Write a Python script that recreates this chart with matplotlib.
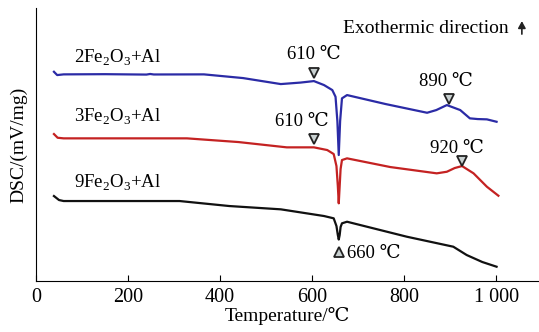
import matplotlib.pyplot as plt

plt.rcParams['font.family'] = ['Liberation Serif', 'DejaVu Serif']
plt.rcParams['mathtext.fontset'] = 'custom'
plt.rcParams['mathtext.rm'] = 'Liberation Serif'

# DSC curves (arbitrary units)
t_blue = [39, 46, 60, 150, 240, 248, 256, 365, 450, 532, 575, 604, 626, 644, 651, 655, 658, 661, 665, 676, 760, 850, 870, 893, 922, 943, 960, 980, 1001]
dsc_blue = [209.3, 206, 206.7, 206.9, 206.5, 207.1, 206.6, 206.7, 203, 197, 198.5, 200, 196, 191, 184.3, 160, 126, 160, 182.7, 186, 177, 168.3, 171, 176, 171, 162.7, 162, 161.7, 159.3]

t_red = [39, 47, 60, 200, 328, 440, 545, 604, 633, 647, 653, 656, 658, 660, 662, 665, 676, 770, 871, 893, 910, 926, 951, 980, 1005]
dsc_red = [147, 143.3, 142.7, 142.7, 142.7, 139, 133.7, 133.7, 131, 127, 115, 95, 77.7, 95, 112, 121, 122.7, 114, 107.7, 109.3, 113, 115, 107.7, 94.3, 85.3]

t_black = [39, 50, 60, 200, 312, 420, 532, 626, 647, 653, 656, 658, 660, 662, 665, 676, 806, 907, 936, 970, 1001]
dsc_black = [85, 81, 80, 80, 80, 75, 71.7, 65, 62.7, 55, 46, 41.5, 46, 54, 57.7, 59.3, 44.3, 34.3, 26, 19, 14.3]

labels = ['2Fe$_\\mathregular{2}$O$_\\mathregular{3}$+Al',
          '3Fe$_\\mathregular{2}$O$_\\mathregular{3}$+Al',
          '9Fe$_\\mathregular{2}$O$_\\mathregular{3}$+Al']

fig = plt.figure(figsize=(5.39, 3.32), dpi=100)
ax = fig.add_axes([0.0668, 0.1536, 0.933, 0.822])

ax.plot(t_blue, dsc_blue, color='#2b2ba6', lw=1.6)
ax.plot(t_red, dsc_red, color='#c42222', lw=1.6)
ax.plot(t_black, dsc_black, color='#111111', lw=1.6)

# peak markers
tri = dict(markersize=7.5, markerfacecolor='#c9d1d1', markeredgecolor='#222222', markeredgewidth=1.3, linestyle='none')
ax.plot([604, 897], [207.7, 181.7], marker='v', **tri)
ax.plot([605, 926], [141.7, 120.3], marker='v', **tri)
ax.plot([658], [29.3], marker='^', **tri)

fs = 13.5
ax.text(605, 218, '610 ℃', fontsize=fs, ha='center', va='bottom')
ax.text(890, 191, '890 ℃', fontsize=fs, ha='center', va='bottom')
ax.text(578, 151, '610 ℃', fontsize=fs, ha='center', va='bottom')
ax.text(915, 124, '920 ℃', fontsize=fs, ha='center', va='bottom')
ax.text(676, 28, '660 ℃', fontsize=fs, ha='left', va='center')

ax.text(83, 223, labels[0], fontsize=fs, ha='left', va='center')
ax.text(83, 164, labels[1], fontsize=fs, ha='left', va='center')
ax.text(83, 98, labels[2], fontsize=fs, ha='left', va='center')

ax.text(668, 253, 'Exothermic direction', fontsize=14, ha='left', va='center')
ax.annotate('', xy=(1056, 260), xytext=(1056, 247),
            arrowprops=dict(arrowstyle='-|>,head_width=0.22,head_length=0.4', color='#222222',
                            lw=1.2, shrinkA=0, shrinkB=0))

ax.set_xlim(0, 1093)
ax.set_ylim(0, 273)
ax.set_xticks([0, 200, 400, 600, 800, 1000])
ax.set_xticklabels(['0', '200', '400', '600', '800', '1 000'])
ax.set_yticks([])
ax.tick_params(axis='x', direction='in', length=4, labelsize=14.5, pad=5)
ax.spines['top'].set_visible(False)
ax.spines['right'].set_visible(False)
ax.set_xlabel('Temperature/℃', fontsize=14, labelpad=0)
ax.set_ylabel('DSC/(mV/mg)', fontsize=14, labelpad=6)

fig.savefig('out.png', dpi=100)
